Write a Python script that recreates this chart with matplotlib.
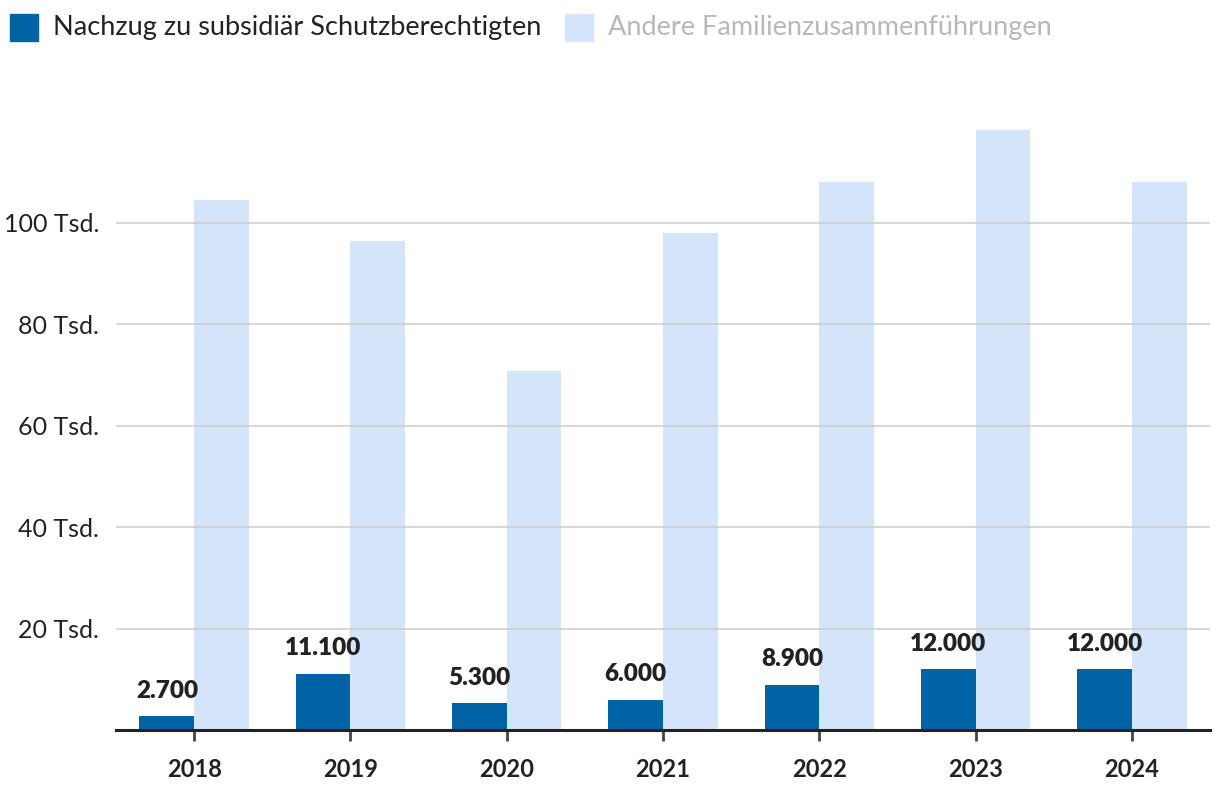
import matplotlib
matplotlib.use('Agg')
import matplotlib.pyplot as plt
from matplotlib.patches import Rectangle
import numpy as np

years = ['2018', '2019', '2020', '2021', '2022', '2023', '2024']
subsidiaer = [2.7, 11.1, 5.3, 6.0, 8.9, 12.0, 12.0]       # Tsd.
andere = [104.5, 96.4, 70.8, 98.0, 108.1, 118.3, 108.1]   # Tsd.
y_ticks = [20, 40, 60, 80, 100]
legend_names = ['Nachzug zu subsidiär Schutzberechtigten', 'Andere Familienzusammenführungen']

dark = '#0063a6'
light = '#d4e5fa'
txt = '#222222'

plt.rcParams['font.family'] = ['Lato', 'DejaVu Sans']

fig = plt.figure(figsize=(12.2, 8), dpi=100)
ax = fig.add_axes([0.0951, 0.0875, 0.8967, 0.7605])

x = np.arange(len(years))
w = 0.35
ax.bar(x - w / 2, subsidiaer, w, color=dark, zorder=2)
ax.bar(x + w / 2, andere, w, color=light, zorder=2)

for xi, v in zip(x, subsidiaer):
    lab = '{:,.0f}'.format(v * 1000).replace(',', '.')
    ax.annotate(lab, (xi - w / 2, v), xytext=(0, 10.5), textcoords='offset points',
                ha='center', va='bottom', fontsize=17.5, fontweight='heavy', color=txt)

ax.set_xlim(-0.5, 6.5)
ax.set_ylim(0, 120)
ax.set_yticks(y_ticks)
ax.set_yticklabels(['%d Tsd.' % t for t in y_ticks])
ax.set_xticks(x)
ax.set_xticklabels(years, fontweight='bold')
ax.yaxis.grid(True, color='#cccccc', linewidth=1.5, alpha=0.75, zorder=3)
ax.set_axisbelow(False)
for s in ['top', 'right', 'left']:
    ax.spines[s].set_visible(False)
ax.spines['bottom'].set_linewidth(2.2)
ax.spines['bottom'].set_color(txt)
ax.spines['bottom'].set_zorder(4)
ax.tick_params(axis='y', length=0, pad=12, labelsize=18, labelcolor=txt)
ax.tick_params(axis='x', length=8, width=2, color='#444444', pad=12, labelsize=17, labelcolor=txt)

# legend
fig.patches.append(Rectangle((10 / 1220, 1 - 41 / 800), 28 / 1220, 27 / 800,
                             transform=fig.transFigure, color=dark))
fig.text(53 / 1220, 1 - 27 / 800, legend_names[0], fontsize=19.5, color=txt, va='center')
fig.patches.append(Rectangle((565 / 1220, 1 - 41 / 800), 28 / 1220, 27 / 800,
                             transform=fig.transFigure, color=light))
fig.text(608 / 1220, 1 - 27 / 800, legend_names[1], fontsize=19.5, color='#b8b8b8', va='center')

fig.savefig('out.png', dpi=100)
